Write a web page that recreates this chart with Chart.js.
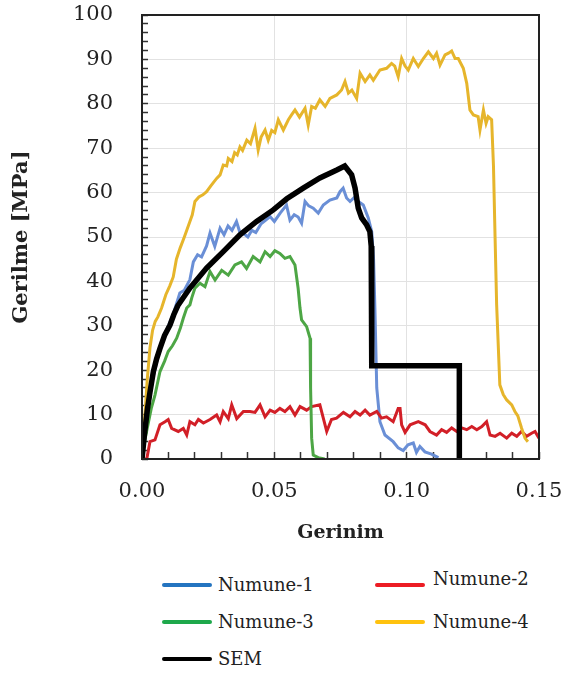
<!DOCTYPE html>
<html>
<head>
<meta charset="utf-8">
<script src="https://cdn.jsdelivr.net/npm/chart.js@4.4.1/dist/chart.umd.min.js"></script>
<style>
  html, body { margin: 0; padding: 0; background: #fff; overflow: hidden; width: 565px; height: 677px; }
  #chart { display: block; }
  #legend {
    box-sizing: border-box; height: 117px; overflow: hidden;
    padding: 6px 0 0 162px;
    display: grid; grid-template-columns: 213px 165px; grid-auto-rows: 37px;
    font: 18px "DejaVu Serif", serif; color: #222;
  }
  #legend .item { display: flex; align-items: center; white-space: nowrap; }
  #legend .swatch { width: 50px; height: 4px; margin-right: 6px; border-radius: 2px; }
  #legend .item:nth-child(2) .name { position: relative; top: -6px; margin-left: 2px; }
  #legend .item:nth-child(4) .name { margin-left: 2px; }
</style>
</head>
<body>
<canvas id="chart" width="565" height="560"></canvas>
<div id="legend"></div>
<script>
// strain (x) / stress in MPa (y)
const numune1 = [[0,0],[0.002,10],[0.004,18],[0.006,23],[0.008,27],[0.010,30],[0.012,33],[0.0143,37.4],[0.016,38],[0.0181,40.4],[0.0194,44.4],[0.021,46],[0.0225,45.5],[0.0244,48],[0.0257,50.9],[0.0275,47.9],[0.0295,52],[0.031,50.5],[0.0325,52.5],[0.034,51.5],[0.0357,53.5],[0.037,51],[0.0382,50.9],[0.040,50],[0.0415,51.5],[0.043,51],[0.045,53],[0.047,53.9],[0.0484,54.6],[0.050,53.5],[0.0522,55.4],[0.0546,57.2],[0.0559,53.8],[0.0575,55],[0.059,54.5],[0.0603,53.1],[0.0616,58],[0.063,57],[0.0647,56.5],[0.0666,55.4],[0.0685,57.2],[0.071,58.3],[0.0736,58.8],[0.0748,60.2],[0.076,61],[0.0773,58.8],[0.0786,58],[0.080,58.8],[0.0811,58.3],[0.0836,57.2],[0.0855,54.3],[0.0868,51.2],[0.0875,45],[0.088,34],[0.0887,16],[0.0899,8.4],[0.0918,5.4],[0.0949,3.9],[0.0968,2.5],[0.0987,1.9],[0.1005,3.2],[0.1025,3.6],[0.1037,1.5],[0.105,2.8],[0.1069,1.6],[0.1094,1.1],[0.112,0.3]];
const numune2 = [[0,0],[0.0018,0],[0.003,3.9],[0.0049,4.3],[0.0068,7.7],[0.0087,8.4],[0.0099,8.9],[0.0112,6.9],[0.0137,6.2],[0.0156,6.9],[0.0169,5.4],[0.0181,8.4],[0.020,7.7],[0.0213,8.9],[0.0232,8.1],[0.0257,8.9],[0.0282,9.9],[0.0295,8.4],[0.0307,10.7],[0.0326,9.1],[0.0339,12.2],[0.0358,9.1],[0.0383,10.7],[0.0408,10.7],[0.0427,10.5],[0.0446,12.2],[0.0465,9.5],[0.0484,11],[0.0502,10.5],[0.0521,11.4],[0.054,10.7],[0.0559,11.8],[0.0578,9.9],[0.0597,11.8],[0.0622,11],[0.0641,11.8],[0.0672,12.2],[0.0685,9.2],[0.0698,6.2],[0.0716,8.9],[0.0735,9.2],[0.0761,10.5],[0.0786,9.5],[0.0805,10.7],[0.0824,9.9],[0.0843,11],[0.0861,9.9],[0.0887,10.7],[0.0905,9.2],[0.0924,9.5],[0.0949,8.4],[0.0968,11.4],[0.0975,11.4],[0.0981,7.7],[0.0994,6],[0.1013,7.7],[0.1044,8.4],[0.107,7.7],[0.1088,6.2],[0.1113,5.4],[0.1132,6.6],[0.1151,6],[0.117,7],[0.1189,6.2],[0.1208,7],[0.1227,6.6],[0.1246,7.3],[0.1265,6.6],[0.1284,7.3],[0.1302,8.4],[0.1315,5.4],[0.1334,5.1],[0.1353,5.8],[0.1378,4.7],[0.1397,5.8],[0.1416,5.1],[0.1434,6.2],[0.1453,5.1],[0.1472,5.8],[0.1485,6.2],[0.15,4.7]];
const numune3 = [[0,0],[0.001,4],[0.002,7],[0.0035,11.4],[0.0049,14.4],[0.0068,19.7],[0.0085,22],[0.0099,24.2],[0.0115,25.5],[0.0131,27.2],[0.0145,29.5],[0.0156,31.7],[0.0169,34],[0.0181,34.7],[0.0188,36.3],[0.020,38.5],[0.0219,39.6],[0.0238,38.8],[0.0257,42.2],[0.0276,40.3],[0.0301,42.5],[0.0326,41.4],[0.0351,43.7],[0.0376,44.4],[0.0395,42.9],[0.042,45.6],[0.0446,44.4],[0.0465,46.7],[0.0484,45.6],[0.0502,46.9],[0.0521,46.3],[0.054,45.2],[0.0559,45.6],[0.0578,43.7],[0.059,38.4],[0.0597,34],[0.0603,31.3],[0.0622,29.8],[0.0635,27.2],[0.0637,16],[0.0641,4.7],[0.0647,0.9],[0.0666,0.3],[0.069,0]];
const numune4 = [[0,0],[0.001,9],[0.002,18],[0.003,25],[0.004,29],[0.005,31],[0.006,32],[0.0074,34],[0.009,37],[0.0105,39],[0.0118,41],[0.013,45],[0.0144,47.5],[0.016,50],[0.0181,53.5],[0.019,55],[0.020,58],[0.0215,59],[0.023,59.5],[0.0244,60.2],[0.026,61.5],[0.0282,63.2],[0.0295,64],[0.0307,66.2],[0.032,66],[0.0326,67.7],[0.034,67],[0.035,69],[0.036,68.5],[0.037,70.3],[0.038,69.5],[0.0396,71.8],[0.041,71],[0.0427,74.5],[0.0439,69.6],[0.045,72.5],[0.0465,74.1],[0.0477,71.8],[0.049,74],[0.0502,73.5],[0.0515,76.4],[0.0534,74.1],[0.0553,76.4],[0.0565,77.5],[0.0578,78.6],[0.0595,77],[0.0616,79],[0.0628,75.2],[0.0641,79.4],[0.0655,79],[0.0672,80.9],[0.0692,79.4],[0.071,81.2],[0.0736,82],[0.0754,83.1],[0.0767,85],[0.078,82.4],[0.0793,83.1],[0.0811,81.2],[0.0824,86.9],[0.0843,85],[0.0861,86.5],[0.0874,85.3],[0.0899,87.6],[0.0924,88],[0.0943,89.1],[0.0955,88.5],[0.0968,86.1],[0.0981,90.2],[0.0994,88.5],[0.1006,87.6],[0.1025,90.2],[0.1044,88.4],[0.1063,90.2],[0.1082,91.7],[0.1101,90.2],[0.1113,91.4],[0.1126,88.7],[0.1145,91],[0.1158,91.4],[0.117,91.9],[0.1183,90.2],[0.1195,90.2],[0.1214,88],[0.1227,84.6],[0.1239,78.6],[0.1252,77.5],[0.127,77.1],[0.1277,74.1],[0.129,78.6],[0.13,75.6],[0.1308,77.1],[0.1321,76.4],[0.1328,66],[0.1334,50],[0.134,34.7],[0.1352,16.7],[0.1365,14.5],[0.1378,13.3],[0.1397,12.2],[0.1409,10.7],[0.142,9.7],[0.1434,7],[0.1447,4.7],[0.1458,3.9]];
const sem = [[0,0],[0.001,6],[0.002,11],[0.003,15],[0.0043,19.7],[0.0055,22.5],[0.0068,24.9],[0.0085,27.8],[0.0106,30.2],[0.012,32.5],[0.0135,34.5],[0.0181,38.5],[0.0244,43],[0.0307,46.7],[0.037,50.5],[0.0433,53.5],[0.0496,56.1],[0.0547,58.6],[0.0609,61],[0.0672,63.3],[0.0736,65.1],[0.0766,66],[0.0792,64],[0.0805,61],[0.0817,56.5],[0.083,54.3],[0.0849,52.7],[0.0861,51.2],[0.0866,48],[0.0868,21],[0.1199,21],[0.1199,0]];

const seriesNames = ["Numune-1", "Numune-2", "Numune-3", "Numune-4", "SEM"];
const xTickLabels = [0, 0.05, 0.10, 0.15];
const yTickLabels = [0, 10, 20, 30, 40, 50, 60, 70, 80, 90, 100];

const lineColors = ["#6a8fd6", "#d21f27", "#4da645", "#e6b52b", "#000000"];
const legendColors = ["#2474c0", "#ec1c24", "#1ea84b", "#ffc20e", "#000000"];

// box round the plot area
const frame = {
  id: "frame",
  afterDraw(chart) {
    const { ctx, chartArea: a } = chart;
    ctx.save();
    ctx.setLineDash([]);
    ctx.strokeStyle = "#222";
    ctx.lineWidth = 2;
    ctx.strokeRect(a.left, a.top, a.right - a.left, a.bottom - a.top);
    ctx.restore();
  },
};

const series = [numune1, numune2, numune3, numune4, sem];
const datasets = series.map((pts, i) => ({
  label: seriesNames[i],
  data: pts.map((p) => ({ x: p[0], y: p[1] })),
  borderColor: lineColors[i],
  borderWidth: i === 4 ? 5.5 : 3,
  pointRadius: 0,
  order: i === 4 ? 0 : 5 - i,
}));

const serif = "DejaVu Serif";

const chart = new Chart(document.getElementById("chart"), {
  type: "line",
  data: { datasets: datasets },
  options: {
    responsive: false,
    animation: false,
    devicePixelRatio: 1,
    layout: { padding: { top: 15, right: 26, bottom: 1, left: 0 } },
    plugins: { legend: { display: false }, tooltip: { enabled: false } },
    scales: {
      x: {
        type: "linear", min: 0, max: 0.15, weight: 1,
        afterFit: (s) => { s.height = 100; },
        afterBuildTicks: (s) => { s.ticks = xTickLabels.map((v) => ({ value: v })); },
        border: { display: false },
        grid: { color: "#e2e2e2", lineWidth: 1, tickLength: 18, tickColor: "rgba(0,0,0,0)" },
        ticks: { autoSkip: false, maxRotation: 0, padding: 2, color: "#222", font: { family: serif, size: 21 }, callback: (v) => v.toFixed(2) },
        title: { display: true, text: "Gerinim", color: "#222", font: { family: serif, size: 19, weight: "bold" }, padding: { top: 0, bottom: 15 } },
      },
      xMinor: {
        type: "linear", position: "bottom", min: 0, max: 0.15, weight: 0,
        afterFit: (s) => { s.height = 0; },
        border: { display: false },
        grid: { drawOnChartArea: false, tickLength: -7, tickColor: "#333", tickWidth: 1.5 },
        ticks: { display: false, stepSize: 0.01, autoSkip: false },
      },
      y: {
        min: 0, max: 100, weight: 1,
        afterFit: (s) => { s.width = 142; },
        afterBuildTicks: (s) => { s.ticks = yTickLabels.map((v) => ({ value: v })); },
        border: { display: false },
        grid: { color: "#e2e2e2", lineWidth: 1, tickLength: 27, tickColor: "rgba(0,0,0,0)" },
        ticks: { autoSkip: false, padding: 2, color: "#222", font: { family: serif, size: 21 } },
        title: { display: true, text: "Gerilme [MPa]", color: "#222", font: { family: serif, size: 21, weight: "bold" }, padding: { top: 9, bottom: 0 } },
      },
      yMinor: {
        position: "left", min: 0, max: 100, weight: 0,
        afterFit: (s) => { s.width = 0; },
        border: { display: false },
        grid: { drawOnChartArea: false, tickLength: -6, tickColor: "#333", tickWidth: 1.5 },
        ticks: { display: false, stepSize: 2, autoSkip: false, maxTicksLimit: 100 },
      },
    },
  },
  plugins: [frame],
});

// legend built from the chart's datasets, placed under the canvas
const legendBox = document.getElementById("legend");
chart.data.datasets.forEach((ds, i) => {
  const item = document.createElement("div");
  item.className = "item";
  const swatch = document.createElement("span");
  swatch.className = "swatch";
  swatch.style.background = legendColors[i];
  const name = document.createElement("span");
  name.className = "name";
  name.textContent = ds.label;
  item.appendChild(swatch);
  item.appendChild(name);
  legendBox.appendChild(item);
});
</script>
</body>
</html>
